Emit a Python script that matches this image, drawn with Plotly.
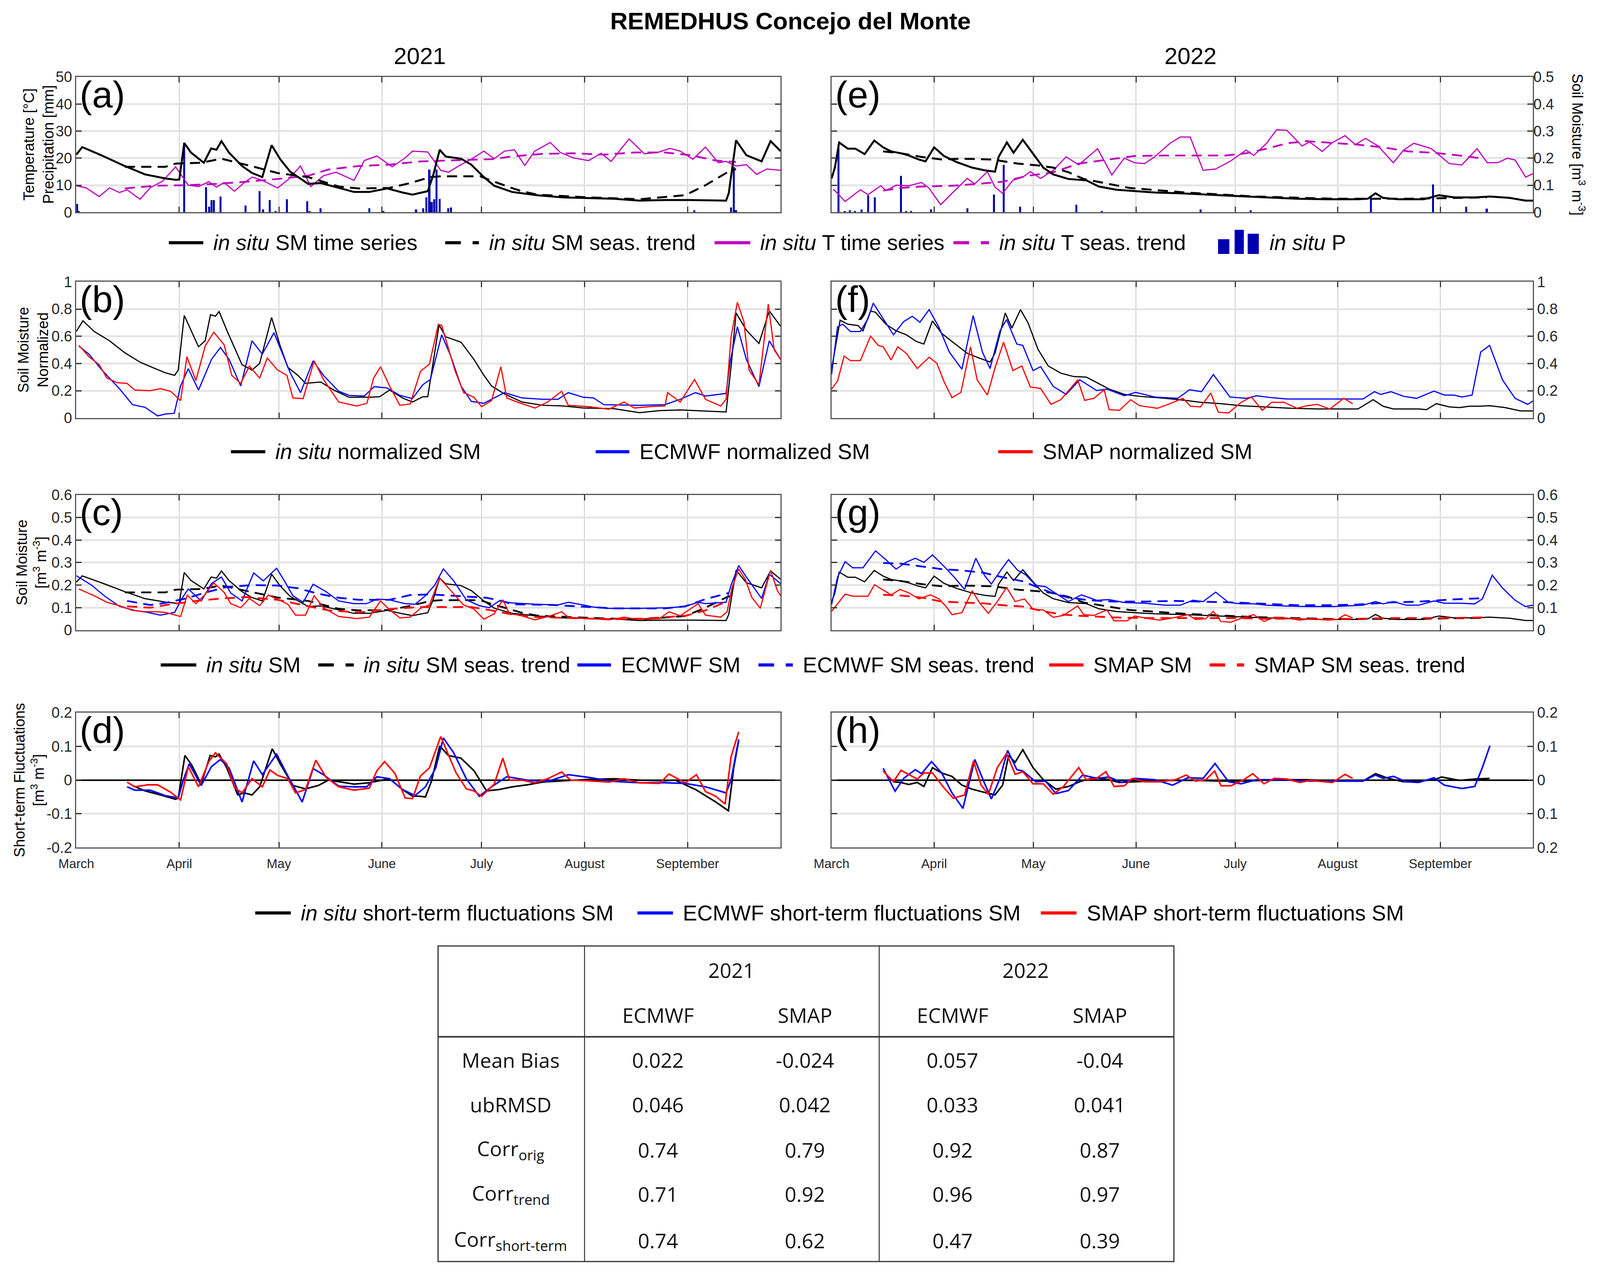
import numpy as np
import pandas as pd
import plotly.graph_objects as go

# values; first number = days after 1 March of that year

# ---- (a)/(c) 2021 in situ soil moisture [m3 m-3] ----
sm21 = [(0, 0.213), (1.8, 0.241), (8.4, 0.206), (14.6, 0.171), (20.7, 0.140), (26.8, 0.125), (30.0, 0.120),
        (31.0, 0.121), (32.5, 0.256), (34.5, 0.221), (38.4, 0.183), (40.6, 0.236), (42.2, 0.231), (43.7, 0.263),
        (46.0, 0.220), (49.9, 0.171), (52.9, 0.145), (56.0, 0.130), (58.8, 0.248), (61.4, 0.196), (64.4, 0.150),
        (69.8, 0.105), (73.6, 0.108), (79.0, 0.090), (83.6, 0.075), (88.2, 0.075), (93.6, 0.088), (98.2, 0.073),
        (101.2, 0.065), (105.8, 0.078), (107.4, 0.135), (109.4, 0.231), (111.2, 0.206), (115.8, 0.198),
        (118.9, 0.176), (122.7, 0.130), (125.8, 0.098), (131.2, 0.075), (138.8, 0.063), (146.5, 0.055),
        (154.2, 0.053), (161.8, 0.050), (169.5, 0.043), (177.2, 0.045), (184.9, 0.045), (195.6, 0.043),
        (196.4, 0.070), (198.6, 0.266), (201.7, 0.211), (206.3, 0.188), (209.0, 0.263), (212, 0.226)]
sm21_trend = [(14.6, 0.168), (26.8, 0.168), (30.0, 0.180), (37.6, 0.183), (43.7, 0.198), (48, 0.185),
              (52.9, 0.170), (60.6, 0.145), (69.8, 0.130), (79, 0.095), (85, 0.088), (94.3, 0.090),
              (100.5, 0.108), (106.6, 0.130), (109.7, 0.133), (121.6, 0.133), (124.7, 0.118), (131, 0.090),
              (134, 0.078), (138.8, 0.065), (154.2, 0.055), (169.5, 0.048), (183.3, 0.063), (189.4, 0.100),
              (195.6, 0.145), (198.6, 0.160)]
t21 = [(0, 9.8), (3, 9.0), (6.9, 5.8), (10, 9.0), (13, 7.3), (15.3, 8.3), (19.2, 4.8), (22.2, 9.0), (26, 11.5),
       (29.9, 16.8), (33.7, 10.0), (36.8, 9.5), (39.9, 11.3), (42.2, 9.3), (44.5, 11.0), (47.6, 7.8),
       (50.6, 11.0), (53, 13.0), (56, 11.8), (60.6, 9.0), (63.7, 12.0), (67.5, 17.1), (70.6, 9.5), (74.4, 13.5),
       (78.2, 14.8), (83.6, 11.8), (86.7, 19.1), (90.5, 20.8), (95.1, 16.8), (99, 20.1), (101.2, 22.6),
       (105.8, 22.3), (109.7, 15.5), (112, 14.8), (115.8, 17.6), (118.9, 19.6), (122.7, 22.6), (125.8, 19.8),
       (128.9, 22.6), (131.9, 23.1), (135, 17.3), (138, 22.6), (142.7, 25.8), (145.7, 22.1), (149.6, 20.1),
       (154.2, 19.1), (158, 21.8), (161, 18.8), (166.4, 27.1), (171, 21.6), (175, 22.1), (178.7, 23.6),
       (181.8, 22.6), (185.6, 19.6), (189.4, 24.1), (193.3, 18.3), (195.6, 18.8), (198.6, 17.1), (201.7, 17.6),
       (204.8, 14.0), (207.9, 16.0), (212, 15.5)]
t21_trend = [(14.6, 8.8), (23.8, 9.8), (33, 10.0), (42.2, 10.5), (51.4, 11.3), (60.6, 12.3), (69.8, 13.5),
             (75.9, 15.8), (85, 17.1), (94.3, 17.6), (103.6, 18.8), (109.7, 19.1), (115.8, 19.3), (125, 19.6),
             (131, 20.6), (140.4, 21.6), (149.6, 21.8), (158.8, 21.3), (168, 22.1), (177.2, 22.1),
             (184.9, 21.1), (192.5, 19.1), (198.6, 18.6)]
p21 = [(0.3, 3.0), (0.8, 0.5), (32.5, 25.8), (39.1, 9.3), (40, 2.0), (40.7, 4.5), (41.4, 4.5), (43.4, 5.8),
       (51, 2.5), (55.2, 7.8), (56.3, 1.0), (58.3, 4.5), (60, 0.5), (63.4, 4.8), (69.5, 4.0), (70.3, 0.5),
       (73.6, 1.5), (88.2, 1.5), (92.5, 0.5), (102.3, 1.0), (104.5, 1.5), (105.4, 5.5), (106.3, 15.8),
       (107, 3.8), (107.8, 4.8), (108.5, 15.8), (109.4, 5.0), (112, 1.5), (112.8, 1.8), (186.1, 0.8),
       (197.1, 1.8), (198, 16.8), (198.6, 0.8)]

# ---- (e)/(g) 2022 ----
sm22 = [(0, 0.125), (1, 0.165), (2.3, 0.258), (4.9, 0.235), (7.2, 0.235), (10, 0.215), (12.9, 0.265),
        (15.6, 0.240), (18, 0.225), (21, 0.218), (23.3, 0.210), (26.4, 0.195), (28.4, 0.188), (31, 0.240),
        (34, 0.208), (37.9, 0.185), (42.5, 0.165), (46.3, 0.155), (49.4, 0.150), (50.5, 0.205), (53, 0.258),
        (55, 0.220), (57.8, 0.268), (60.9, 0.215), (64, 0.165), (67, 0.140), (71.6, 0.123), (77, 0.118),
        (80.8, 0.095), (86.2, 0.083), (91.6, 0.078), (97.7, 0.073), (105.4, 0.070), (113, 0.065),
        (122.3, 0.060), (131.5, 0.055), (140.7, 0.050), (149.9, 0.048), (159, 0.048), (162.1, 0.050),
        (164.4, 0.070), (166.7, 0.053), (171.3, 0.048), (179, 0.048), (183.6, 0.063), (188.2, 0.055),
        (194.4, 0.055), (199, 0.058), (205, 0.053), (209.8, 0.043), (212, 0.043)]
sm22_trend = [(15.6, 0.225), (21, 0.218), (27, 0.205), (33.3, 0.195), (39.4, 0.198), (48.6, 0.195),
              (56.3, 0.180), (62.4, 0.173), (67, 0.165), (71.6, 0.148), (76.2, 0.123), (90, 0.090),
              (107, 0.073), (128.4, 0.058), (151.4, 0.050), (174.4, 0.050), (198, 0.055)]
t22 = [(0.5, 8.5), (1, 8.0), (4.1, 4.0), (8.7, 8.3), (11, 6.5), (14.9, 9.8), (16.4, 8.0), (19.5, 10.0),
       (23.3, 9.8), (27.2, 11.0), (29.4, 9.0), (33, 2.8), (36.4, 7.0), (41, 12.5), (43.3, 10.5), (47.1, 15.0),
       (49.4, 9.3), (51.7, 7.0), (54.8, 11.8), (57.8, 13.0), (60.1, 15.0), (63.2, 12.5), (67, 15.5),
       (70.9, 20.5), (74.7, 17.5), (77.8, 20.8), (80.4, 23.5), (84.7, 13.8), (88.5, 20.0), (91.6, 18.3),
       (94.6, 18.0), (97.7, 20.5), (102.3, 25.5), (105.4, 27.8), (108.4, 27.8), (112.3, 15.5), (116.1, 16.0),
       (120.7, 19.0), (125.3, 23.0), (127.6, 21.0), (131.5, 25.5), (134.5, 30.5), (137.6, 30.3),
       (142.2, 24.5), (144.5, 26.0), (148.3, 22.5), (151.4, 25.8), (155.2, 28.3), (158.3, 25.0),
       (161.4, 27.3), (165.2, 24.5), (169.8, 18.3), (172.9, 23.0), (176, 25.5), (181.3, 23.5), (186.7, 18.0),
       (190.5, 17.5), (195.1, 23.5), (198.2, 18.3), (201.3, 18.3), (204.3, 20.0), (206.6, 19.3),
       (209.8, 13.0), (212, 14.3)]
t22_trend = [(15.6, 8.0), (21, 9.0), (27.2, 9.5), (36.4, 9.8), (44, 10.5), (51.7, 11.3), (59.4, 13.5),
             (67, 14.8), (74.7, 18.0), (82.4, 19.3), (91.6, 20.8), (100.8, 21.0), (110, 21.0), (119.2, 21.0),
             (125.3, 21.8), (131.5, 23.5), (137.6, 25.5), (143.7, 26.3), (152.9, 25.5), (159, 25.0),
             (166.7, 24.0), (174.4, 22.5), (182, 22.0), (189.7, 21.0), (195.9, 20.0)]
p22 = [(2.1, 25.0), (4, 0.5), (5.5, 0.8), (7, 0.5), (9, 1.0), (11, 6.3), (13, 5.5), (21, 13.5), (22.5, 0.5),
       (24, 0.5), (30, 1.0), (41, 1.5), (49.1, 6.5), (52, 17.5), (57, 2.0), (74, 2.8), (81.6, 0.5),
       (111.5, 1.0), (126.6, 0.8), (163, 5.3), (181.8, 10.3), (191.8, 2.0), (198, 1.3)]

# ---- (b)/(f) normalized soil moisture ----
norm_insitu21 = [(0, 0.635), (2, 0.714), (5.4, 0.635), (10, 0.567), (14.6, 0.479), (19.2, 0.41), (23.8, 0.362),
                 (26.8, 0.332), (29.6, 0.313), (30.7, 0.352), (32.5, 0.753), (34.5, 0.645), (36.8, 0.523),
                 (38.8, 0.567), (40.4, 0.758), (41.9, 0.748), (43, 0.782), (45.3, 0.645), (49.9, 0.391),
                 (52.9, 0.352), (55.2, 0.401), (58.8, 0.738), (61.4, 0.528), (63.7, 0.371), (66.7, 0.313),
                 (69, 0.254), (73.6, 0.264), (77.5, 0.205), (82.1, 0.152), (88.2, 0.152), (91.3, 0.156),
                 (94.3, 0.205), (98.2, 0.147), (101.2, 0.117), (104.3, 0.156), (105.8, 0.156), (109.2, 0.684),
                 (111.2, 0.596), (115.8, 0.557), (119.7, 0.43), (122.7, 0.313), (125, 0.235), (128.9, 0.176),
                 (134.2, 0.117), (140.4, 0.093), (146.5, 0.088), (152.6, 0.073), (161.8, 0.068), (169.5, 0.039),
                 (175.6, 0.054), (181.8, 0.059), (186.4, 0.054), (195.6, 0.044), (197.2, 0.40), (198.6, 0.772),
                 (201.7, 0.645), (205.5, 0.547), (208.6, 0.787), (212, 0.674)]
norm_ecmwf21 = [(0.8, 0.528), (3.8, 0.469), (7.7, 0.352), (13, 0.215), (16.9, 0.098), (20.7, 0.078),
                (24.5, 0.015), (26.8, 0.029), (29.5, 0.034), (31.4, 0.235), (33.7, 0.362), (36.8, 0.205),
                (40.7, 0.43), (43.4, 0.518), (46, 0.43), (49.5, 0.235), (52.9, 0.567), (56, 0.469), (59.5, 0.626),
                (61.8, 0.489), (64.4, 0.332), (67.5, 0.186), (71.3, 0.42), (74.4, 0.313), (79, 0.196),
                (82.1, 0.166), (86.7, 0.161), (89.7, 0.23), (93.6, 0.22), (97.4, 0.166), (101.2, 0.142),
                (104.3, 0.244), (106.6, 0.283), (110, 0.611), (112.8, 0.45), (115.8, 0.235), (118.9, 0.122),
                (122.7, 0.108), (125.8, 0.147), (128.9, 0.186), (134.2, 0.147), (140.4, 0.137), (145, 0.137),
                (148.1, 0.186), (152.6, 0.152), (155.7, 0.147), (158.8, 0.098), (169.5, 0.093), (177.2, 0.098),
                (181.8, 0.137), (186.4, 0.186), (189.4, 0.161), (195.6, 0.18), (196.8, 0.41), (199, 0.67),
                (201.7, 0.43), (205.5, 0.23), (208.6, 0.567), (212, 0.43)]
norm_smap21 = [(0.8, 0.533), (3.8, 0.45), (6.9, 0.391), (9.2, 0.293), (12.3, 0.259), (15.3, 0.254), (17.6, 0.205),
               (22.2, 0.2), (25.3, 0.215), (28.4, 0.196), (31.4, 0.127), (33.3, 0.45), (36, 0.274), (38.8, 0.528),
               (41.4, 0.63), (44.5, 0.538), (46.8, 0.313), (49.5, 0.254), (52.1, 0.381), (55.2, 0.293),
               (57.5, 0.44), (60.6, 0.352), (63.4, 0.313), (65.2, 0.147), (68.3, 0.142), (71.6, 0.42),
               (74.4, 0.283), (79, 0.117), (84.4, 0.088), (87.5, 0.108), (89.5, 0.293), (91.6, 0.376),
               (94.3, 0.235), (97.4, 0.093), (100.5, 0.103), (103.6, 0.342), (106.3, 0.396), (109, 0.689),
               (110, 0.68), (114, 0.347), (116.6, 0.186), (119.7, 0.152), (122, 0.083), (125, 0.127),
               (127.8, 0.376), (129.6, 0.147), (132.7, 0.117), (138.1, 0.073), (141.9, 0.117), (146.1, 0.196),
               (148.1, 0.093), (154.2, 0.083), (160.3, 0.064), (164.9, 0.117), (168, 0.073), (172.6, 0.083),
               (177.2, 0.088), (178, 0.186), (181.8, 0.117), (186.1, 0.283), (189.4, 0.137), (194, 0.088),
               (195.6, 0.137), (197.1, 0.596), (199, 0.85), (201, 0.704), (202.5, 0.352), (205.5, 0.244),
               (208.3, 0.836), (210.1, 0.499), (212, 0.43)]
norm_insitu22 = [(0, 0.358), (2.6, 0.718), (4.9, 0.689), (8, 0.679), (9.5, 0.64), (11.8, 0.786), (13.3, 0.776),
                 (16.4, 0.689), (19.5, 0.64), (22.6, 0.611), (25.6, 0.562), (27.9, 0.543), (30.5, 0.713),
                 (33.3, 0.621), (36.4, 0.562), (41, 0.475), (44, 0.446), (47.9, 0.411), (49.4, 0.475),
                 (52.5, 0.771), (54.5, 0.66), (57.1, 0.796), (59.4, 0.698), (62.4, 0.504), (65.5, 0.382),
                 (69.3, 0.329), (73.2, 0.304), (77, 0.3), (80.1, 0.261), (83.9, 0.212), (88.5, 0.173),
                 (93.1, 0.159), (100.8, 0.144), (106.9, 0.129), (111.5, 0.115), (117.7, 0.105), (123.8, 0.09),
                 (131.5, 0.081), (139.1, 0.071), (146.8, 0.066), (159.1, 0.066), (163.7, 0.134), (166.7, 0.086),
                 (169.8, 0.066), (177.5, 0.066), (179.8, 0.061), (182.8, 0.105), (186.7, 0.081), (189.8, 0.076),
                 (192.8, 0.086), (195.9, 0.086), (199, 0.09), (203.6, 0.076), (208.2, 0.052), (212, 0.052)]
norm_ecmwf22 = [(0, 0.319), (1.8, 0.669), (3.4, 0.689), (5.7, 0.635), (8.7, 0.635), (11, 0.728), (12.6, 0.844),
                (15.6, 0.728), (18.7, 0.611), (21.8, 0.708), (24.4, 0.747), (26.7, 0.703), (29.5, 0.796),
                (32.5, 0.664), (35.6, 0.484), (39.4, 0.358), (42.8, 0.752), (45.6, 0.484), (47.9, 0.363),
                (50.9, 0.64), (52.9, 0.723), (56, 0.543), (57.8, 0.533), (60.9, 0.348), (63.2, 0.377),
                (67, 0.232), (70.9, 0.173), (75, 0.28), (80.1, 0.202), (83.2, 0.212), (88.5, 0.163),
                (91.9, 0.188), (97.7, 0.154), (104.6, 0.144), (108.2, 0.207), (111.8, 0.193), (115.4, 0.319),
                (120.4, 0.154), (125.3, 0.144), (128.4, 0.163), (133, 0.149), (137.6, 0.139), (160.6, 0.139),
                (164.1, 0.193), (166, 0.173), (169.1, 0.193), (172.9, 0.159), (176.8, 0.144), (182.1, 0.197),
                (185.2, 0.168), (188.2, 0.168), (190.5, 0.154), (193.6, 0.168), (196.2, 0.484), (198.9, 0.533),
                (202.8, 0.28), (206.6, 0.144), (210.4, 0.1), (212, 0.125)]
norm_smap22 = [(0, 0.212), (1.8, 0.27), (3.8, 0.455), (5.7, 0.421), (8.7, 0.421), (11.8, 0.601), (14.1, 0.533),
               (15.6, 0.523), (18, 0.426), (20, 0.523), (22.6, 0.475), (25.9, 0.363), (29.5, 0.446),
               (31.8, 0.402), (34.1, 0.261), (36.4, 0.149), (39.1, 0.188), (42, 0.523), (44, 0.28), (47.1, 0.168),
               (49.4, 0.368), (52, 0.557), (54.8, 0.348), (57.5, 0.382), (60.1, 0.227), (63.2, 0.217),
               (66.3, 0.1), (69.3, 0.134), (74.4, 0.28), (76.5, 0.129), (79.3, 0.144), (82.4, 0.207),
               (83.9, 0.061), (87, 0.056), (90.4, 0.134), (93.1, 0.09), (98.5, 0.071), (102.3, 0.105),
               (106.2, 0.144), (108.5, 0.086), (111.5, 0.081), (114.6, 0.183), (116.9, 0.042), (120, 0.037),
               (123.8, 0.115), (126.9, 0.154), (130.2, 0.056), (133, 0.115), (136.8, 0.115), (140.7, 0.071),
               (143.7, 0.09), (146.8, 0.1), (150.6, 0.066), (154.8, 0.144), (157.5, 0.105)]

# ---- (c)/(g) ECMWF and SMAP soil moisture [m3 m-3] ----
ecmwf21 = [(0, 0.242), (4.6, 0.2), (8.4, 0.153), (13, 0.106), (17.6, 0.088), (21.5, 0.079), (25.3, 0.067),
           (29.6, 0.079), (31.8, 0.141), (33.7, 0.183), (37.6, 0.13), (40.7, 0.207), (43.7, 0.236), (46.5, 0.165),
           (49.9, 0.13), (53.4, 0.254), (56.3, 0.219), (60.3, 0.275), (62.4, 0.225), (65.2, 0.153), (68.3, 0.124),
           (71.3, 0.204), (75.2, 0.171), (79, 0.13), (83.6, 0.118), (87.4, 0.118), (90.5, 0.138), (94.3, 0.135),
           (98.9, 0.118), (102, 0.115), (105.1, 0.153), (107.9, 0.2), (110.5, 0.272), (113.6, 0.219),
           (117.4, 0.135), (121.3, 0.109), (124.3, 0.1), (127.3, 0.13), (131.2, 0.121), (138.8, 0.115),
           (145, 0.112), (148.1, 0.124), (152.6, 0.112), (155.7, 0.103), (159.6, 0.097), (169.5, 0.097),
           (178.7, 0.1), (183.3, 0.106), (187.2, 0.124), (189.4, 0.118), (195.6, 0.124), (197.1, 0.2),
           (199.4, 0.287), (201.7, 0.236), (206.3, 0.141), (208.6, 0.248), (212, 0.207)]
ecmwf21_trend = [(15.3, 0.13), (22.2, 0.112), (26.8, 0.121), (33, 0.141), (39.1, 0.168), (45.3, 0.192),
                 (52.9, 0.2), (60.6, 0.198), (66.7, 0.186), (72.8, 0.162), (79, 0.144), (85.1, 0.135),
                 (94.3, 0.135), (100.5, 0.156), (106.6, 0.159), (115.8, 0.15), (123.5, 0.144), (128.1, 0.13),
                 (131.2, 0.115), (143.5, 0.112), (154.2, 0.103), (161.8, 0.097), (177.2, 0.097), (183.3, 0.106),
                 (189.4, 0.138), (196.3, 0.165)]
smap21 = [(0.8, 0.183), (5.4, 0.153), (9.2, 0.124), (13, 0.109), (16.9, 0.088), (20.7, 0.082), (23.8, 0.082),
          (26.8, 0.079), (31.4, 0.061), (33.4, 0.156), (36, 0.118), (38.8, 0.159), (41.4, 0.21), (44.5, 0.168),
          (46.5, 0.118), (49.5, 0.1), (52.1, 0.141), (55.2, 0.109), (57.8, 0.156), (61.4, 0.132), (63.7, 0.115),
          (66, 0.067), (69, 0.067), (71.6, 0.153), (74.4, 0.1), (79, 0.061), (84.4, 0.052), (88.2, 0.058),
          (91.6, 0.13), (94.3, 0.091), (97.4, 0.055), (100.5, 0.058), (103.6, 0.097), (106.3, 0.112),
          (109.4, 0.231), (116.6, 0.112), (119.7, 0.094), (122.7, 0.049), (125.8, 0.073), (128.4, 0.135),
          (130.4, 0.073), (133.5, 0.067), (138.1, 0.046), (142.7, 0.064), (146.1, 0.082), (148.1, 0.058),
          (154.2, 0.052), (160.3, 0.046), (164.9, 0.058), (168.8, 0.049), (175.6, 0.052), (178.4, 0.082),
          (181.8, 0.064), (187.2, 0.118), (189.4, 0.067), (194, 0.058), (195.9, 0.082), (197.4, 0.189),
          (199.4, 0.272), (201.4, 0.225), (203.3, 0.147), (205.9, 0.097), (209, 0.266), (211, 0.177),
          (212, 0.153)]
smap21_trend = [(15.3, 0.106), (22.2, 0.1), (28.4, 0.115), (36, 0.13), (43.7, 0.141), (51.4, 0.147),
                (60.6, 0.135), (68.3, 0.112), (75.9, 0.088), (85.1, 0.079), (94.3, 0.094), (103.6, 0.103),
                (111.2, 0.103), (118.9, 0.103), (125, 0.088), (131.2, 0.07), (138.8, 0.058), (146.5, 0.055),
                (154.2, 0.052), (161.8, 0.049), (171, 0.052), (177.2, 0.058), (183.3, 0.064), (189.4, 0.088),
                (196.3, 0.13)]
ecmwf22 = [(0, 0.114), (1.8, 0.235), (4.1, 0.304), (6.4, 0.277), (9.5, 0.277), (13.3, 0.352), (16.4, 0.313),
           (19.5, 0.271), (22.5, 0.301), (25.3, 0.319), (27.9, 0.301), (30.5, 0.334), (34, 0.283), (37.1, 0.235),
           (40.2, 0.181), (43.6, 0.319), (46.3, 0.241), (48.3, 0.205), (51.4, 0.271), (53.5, 0.313),
           (56.3, 0.265), (58.6, 0.247), (61.7, 0.199), (64.7, 0.193), (67.8, 0.163), (71.6, 0.127),
           (75.5, 0.157), (80.1, 0.133), (83.9, 0.136), (88.5, 0.123), (94.6, 0.12), (100.8, 0.111),
           (105.4, 0.111), (109.2, 0.133), (112.3, 0.127), (116.1, 0.169), (120, 0.123), (123.8, 0.117),
           (127.6, 0.117), (131.5, 0.111), (136.1, 0.108), (143.7, 0.105), (151.4, 0.105), (160.6, 0.111),
           (164.4, 0.127), (166.7, 0.117), (169.8, 0.127), (173.7, 0.111), (177.5, 0.111), (182.1, 0.13),
           (185.2, 0.12), (189.8, 0.12), (194.4, 0.117), (196.7, 0.139), (199.7, 0.244), (202.8, 0.187),
           (206.6, 0.133), (209.7, 0.105), (212, 0.111)]
ecmwf22_trend = [(15.6, 0.298), (21, 0.295), (27.2, 0.283), (33.3, 0.271), (39.4, 0.265), (45.6, 0.256),
                 (51.7, 0.235), (57.8, 0.217), (62.4, 0.19), (67, 0.163), (71.6, 0.145), (77.8, 0.133),
                 (85.5, 0.127), (94.6, 0.127), (103.8, 0.13), (113, 0.127), (122.3, 0.123), (131.5, 0.117),
                 (140.7, 0.111), (149.9, 0.111), (159.1, 0.114), (168.3, 0.123), (177.5, 0.127), (186.7, 0.136),
                 (196.7, 0.142)]
smap22 = [(0, 0.084), (1, 0.102), (4.1, 0.16), (6.4, 0.151), (11, 0.151), (13, 0.202), (15.6, 0.178), (18, 0.157),
          (20.7, 0.181), (23.3, 0.166), (26.4, 0.139), (29.9, 0.157), (32.5, 0.139), (34.8, 0.102), (36.4, 0.069),
          (39.4, 0.078), (42.5, 0.175), (44.8, 0.12), (47.4, 0.075), (50.1, 0.127), (52.9, 0.19), (55.5, 0.127),
          (58.3, 0.139), (60.9, 0.093), (64, 0.09), (67, 0.057), (70.1, 0.066), (74.4, 0.108), (76.2, 0.069),
          (79.3, 0.066), (83.2, 0.09), (85.4, 0.042), (89.3, 0.042), (91.6, 0.063), (96.2, 0.051), (99.3, 0.045),
          (103.9, 0.057), (107.7, 0.069), (110, 0.048), (113.1, 0.051), (115.4, 0.084), (117.7, 0.039),
          (120.7, 0.036), (124.6, 0.057), (127.6, 0.069), (130.7, 0.039), (133.8, 0.057), (137.6, 0.054),
          (141.5, 0.045), (144.5, 0.051), (149.9, 0.045), (152.9, 0.048), (155.2, 0.069), (157.5, 0.054)]
smap22_trend = [(15.6, 0.157), (21, 0.154), (27.2, 0.145), (33.3, 0.127), (39.4, 0.123), (45.6, 0.12),
                (51.7, 0.111), (57.8, 0.105), (64, 0.084), (70.1, 0.069), (76.2, 0.063), (85.4, 0.057),
                (94.6, 0.054), (103.9, 0.054), (113.1, 0.054), (122.3, 0.054), (131.5, 0.051), (140.7, 0.051),
                (149.9, 0.048), (159.1, 0.051), (168.3, 0.054), (177.5, 0.054), (186.7, 0.054), (196.7, 0.057)]

# ---- (d)/(h) short-term fluctuations [m3 m-3] ----
st_insitu21 = [(16.9, -0.016), (20.7, -0.032), (25.3, -0.044), (29.9, -0.057), (30.7, -0.053), (32.7, 0.073),
               (34.8, 0.044), (37.6, -0.012), (40.3, 0.073), (41.9, 0.069), (43, 0.077), (45.3, 0.036),
               (48.6, -0.044), (50.6, -0.038), (52.9, -0.044), (55.2, -0.02), (59, 0.093), (61.4, 0.048),
               (65.2, -0.016), (69, -0.026), (72.9, -0.016), (75.9, 0), (79.8, -0.006), (83.6, -0.012),
               (88.2, -0.008), (92, 0), (94.3, 0.004), (98.2, -0.028), (101.2, -0.048), (103.2, -0.048),
               (105.1, -0.05), (106.9, -0.004), (109.4, 0.101), (112, 0.073), (115.8, 0.065), (119.7, 0.028),
               (123.5, -0.032), (127.3, -0.028), (131.2, -0.02), (135.8, -0.014), (140.4, -0.006), (146.5, -0.002),
               (154.2, 0.002), (161.8, 0.004), (169.5, 0), (177.2, -0.002), (180.3, 0), (186.4, -0.028),
               (192.5, -0.065), (196.3, -0.091), (197.9, 0.036), (199.4, 0.117)]
st_ecmwf21 = [(15.3, -0.02), (17.6, -0.03), (22.2, -0.03), (26.8, -0.046), (30.7, -0.053), (32.2, 0),
              (34, 0.048), (37.6, -0.016), (40.7, 0.04), (43.4, 0.061), (46, 0.036), (49.9, -0.065), (53.4, 0.057),
              (56, 0.016), (60.3, 0.077), (63.7, 0.012), (68, -0.065), (71.3, 0.034), (74.4, 0.016), (79, -0.018),
              (83.6, -0.02), (87.4, -0.02), (90.5, 0.01), (94.3, 0.004), (98.2, -0.028), (102, -0.046),
              (105.1, -0.02), (108.2, 0.036), (110.5, 0.125), (113.6, 0.081), (117.4, 0.004), (121.3, -0.048),
              (125, -0.02), (129.6, 0.01), (135.8, 0), (141.9, -0.004), (148.1, 0.016), (154.2, 0.008),
              (161.8, -0.004), (169.5, -0.008), (177.2, -0.008), (183.3, -0.01), (189.4, -0.02), (195.6, -0.038),
              (197.1, 0), (199.4, 0.121)]
st_smap21 = [(15.3, -0.006), (17.6, -0.02), (21.5, -0.014), (24.5, -0.014), (28.4, -0.036), (31.4, -0.059),
             (33.7, 0.04), (36.8, -0.02), (39.9, 0.055), (41.9, 0.081), (45.3, 0.048), (47.6, -0.022),
             (49.9, -0.038), (52.9, 0.004), (56, -0.02), (58.3, 0.03), (60.6, 0.014), (63.7, 0.004), (66, -0.038),
             (69, -0.028), (72.1, 0.059), (75.2, 0.008), (79, -0.02), (83.6, -0.03), (88.2, -0.024), (90.5, 0.028),
             (92.8, 0.055), (95.9, 0.02), (99, -0.053), (101.2, -0.055), (103.6, 0.012), (106.3, 0.036),
             (109.7, 0.129), (114.3, 0.022), (117.4, -0.026), (119.7, -0.032), (122, -0.048), (125.8, -0.012),
             (128.4, 0.065), (130.4, 0), (134.2, 0), (138.1, -0.008), (141.9, 0.004), (146.1, 0.024),
             (148.8, 0), (154.2, -0.002), (160.3, -0.006), (164.9, 0.004), (169.5, -0.008), (175.6, -0.01),
             (178.4, 0.018), (183.3, -0.008), (186.7, 0.016), (189.4, -0.034), (192.5, -0.048), (195.3, -0.071),
             (197.1, 0.069), (199.4, 0.143)]
st_insitu22 = [(18.7, -0.005), (21, -0.007), (23.3, -0.013), (25.9, -0.007), (27.9, -0.019), (30.5, 0.037),
               (33.3, 0.021), (36.4, 0.011), (39.4, -0.015), (42.5, -0.027), (45.6, -0.035), (49.4, -0.044),
               (51.7, -0.015), (53.5, 0.073), (55.5, 0.053), (57.8, 0.09), (60.9, 0.037), (64, 0.001),
               (67.8, -0.027), (71.6, -0.019), (75.5, -0.003), (79.3, 0.007), (83.9, 0.001), (86.9, -0.007),
               (91.6, -0.005), (97.7, -0.003), (103.9, -0.001), (110, -0.001), (117.7, -0.003), (125.3, -0.003),
               (134.5, 0.001), (143.7, 0.001), (152.9, -0.003), (160.6, -0.003), (164.4, 0.019), (168.3, 0.005),
               (172.9, -0.005), (177.5, -0.003), (182.1, 0.001), (184.4, 0.009), (189.8, -0.001), (194.4, 0.003),
               (198.9, 0.005)]
st_ecmwf22 = [(15.6, 0.035), (19.2, -0.033), (21.8, 0.005), (25.3, 0.031), (27.2, 0.019), (30.2, 0.055),
              (33.3, 0.021), (36.4, -0.038), (39.7, -0.084), (43.3, 0.061), (46.3, -0.011), (48.3, -0.056),
              (50.9, 0.005), (53.2, 0.088), (56, 0.031), (57.8, 0.027), (61.7, -0.005), (64.7, -0.003),
              (67.8, -0.04), (71.6, -0.031), (75.9, 0.015), (80.1, 0.005), (83.9, 0.009), (87.7, -0.007),
              (91.6, 0.005), (97.7, 0.001), (103.1, -0.015), (107.7, 0.007), (112.3, 0.005), (115.9, 0.049),
              (120, -0.005), (123.8, -0.011), (128.4, 0.001), (136.1, 0.001), (143.7, -0.003), (152.9, -0.003),
              (160.6, -0.003), (164.4, 0.015), (166.7, 0.005), (169.8, 0.011), (173.7, -0.005), (177.5, -0.007),
              (182.1, 0.007), (185.2, -0.015), (190.5, -0.025), (194.4, -0.019), (196.7, 0.037), (199, 0.102)]
st_smap22 = [(15.6, 0.027), (18.7, -0.005), (21, 0.029), (23.3, 0.017), (25.9, 0.003), (27.9, 0.021),
             (30.5, 0.021), (34, -0.023), (36.8, -0.054), (40.2, -0.044), (42.9, 0.057), (45.2, -0.015),
             (47.4, -0.042), (50.1, 0.037), (52.9, 0.079), (55.5, 0.017), (57.8, 0.025), (60.9, -0.011),
             (64, -0.011), (67, -0.042), (70.1, -0.019), (74.7, 0.037), (77, 0.001), (80.1, 0.005), (82.9, 0.025),
             (85.4, -0.019), (88.5, -0.017), (90.9, 0.005), (94.6, -0.005), (99.3, -0.005), (103.9, 0.001),
             (107.2, 0.015), (110, -0.003), (113.1, 0.001), (115.8, 0.027), (117.7, -0.017), (120.7, -0.017),
             (124.6, 0.001), (127.3, 0.019), (130.7, -0.011), (133.8, 0.005), (137.6, 0.003), (141.5, -0.007),
             (144.5, -0.001), (151.4, -0.007), (155.2, 0.017), (157.5, 0.005)]

# ---- table ----
table_rows = ["Mean Bias", "ubRMSD", "Corr<sub>orig</sub>", "Corr<sub>trend</sub>", "Corr<sub>short-term</sub>"]
ecmwf_2021 = ["0.022", "0.046", "0.74", "0.71", "0.74"]
smap_2021 = ["-0.024", "0.042", "0.79", "0.92", "0.62"]
ecmwf_2022 = ["0.057", "0.033", "0.92", "0.96", "0.47"]
smap_2022 = ["-0.04", "0.041", "0.87", "0.97", "0.39"]

months = ["March", "April", "May", "June", "July", "August", "September"]

BLACK, BLUE, RED, MAGENTA, PBLUE = "#000000", "#0000ff", "#ff0000", "#bf00bf", "#0000b0"
FONT = "Liberation Sans, Arial, sans-serif"
DASH = "26px,16px"

fig = go.Figure()


def dates(year, days):
    return pd.Timestamp(f"{year}-03-01") + pd.to_timedelta(np.asarray(days, dtype=float), unit="D")


def line(series, year, xa, ya, color, width=3.5, dash=None):
    d, v = zip(*series)
    fig.add_trace(go.Scatter(x=dates(year, d), y=list(v), mode="lines", xaxis=xa, yaxis=ya,
                             line=dict(color=color, width=width, dash=dash),
                             showlegend=False, hoverinfo="skip"))


def bars(series, year, xa, ya):
    d, v = zip(*series)
    fig.add_trace(go.Bar(x=dates(year, d), y=list(v), xaxis=xa, yaxis=ya, width=0.6 * 86400000,
                         marker=dict(color=PBLUE, line_width=0), showlegend=False, hoverinfo="skip"))


# (a) and (e)
for year, xa, ya, ysm, p, t, tt, sm, smt in [(2021, "x", "y", "y9", p21, t21, t21_trend, sm21, sm21_trend),
                                             (2022, "x5", "y5", "y10", p22, t22, t22_trend, sm22, sm22_trend)]:
    bars(p, year, xa, ya)
    line(t, year, xa, ya, MAGENTA, 3)
    line(tt, year, xa, ya, MAGENTA, 4.5, DASH)
    line(sm, year, xa, ysm, BLACK, 5)
    line(smt, year, xa, ysm, BLACK, 5, DASH)

# (b) and (f)
for year, xa, ya, a, b, c in [(2021, "x2", "y2", norm_insitu21, norm_ecmwf21, norm_smap21),
                              (2022, "x6", "y6", norm_insitu22, norm_ecmwf22, norm_smap22)]:
    line(a, year, xa, ya, BLACK, 3)
    line(b, year, xa, ya, BLUE, 3)
    line(c, year, xa, ya, RED, 3)

# (c) and (g)
for year, xa, ya, s, st, e, et, m, mt in [
        (2021, "x3", "y3", sm21, sm21_trend, ecmwf21, ecmwf21_trend, smap21, smap21_trend),
        (2022, "x7", "y7", sm22, sm22_trend, ecmwf22, ecmwf22_trend, smap22, smap22_trend)]:
    line(s, year, xa, ya, BLACK, 3)
    line(st, year, xa, ya, BLACK, 4.5, DASH)
    line(e, year, xa, ya, BLUE, 3)
    line(et, year, xa, ya, BLUE, 4.5, DASH)
    line(m, year, xa, ya, RED, 3)
    line(mt, year, xa, ya, RED, 4.5, DASH)

# (d) and (h)
for year, xa, ya, a, b, c in [(2021, "x4", "y4", st_insitu21, st_ecmwf21, st_smap21),
                              (2022, "x8", "y8", st_insitu22, st_ecmwf22, st_smap22)]:
    line(a, year, xa, ya, BLACK, 4)
    line(b, year, xa, ya, BLUE, 4)
    line(c, year, xa, ya, RED, 4)

# ---- axes ----
COLS = {2021: [0.0459, 0.4878], 2022: [0.5198, 0.9599]}
ROWS = [[0.8353, 0.9418], [0.6733, 0.7805], [0.5061, 0.6127], [0.3350, 0.4412]]
YRANGE = [[0, 50], [0, 1], [0, 0.6], [-0.2, 0.2]]
YDTICK = [10, 0.2, 0.1, 0.1]
TICKFONT = dict(family=FONT, size=38, color="#262626")
MONTHFONT = dict(family=FONT, size=33, color="#262626")
common = dict(showline=True, linecolor="#555555", linewidth=3, mirror="ticks", ticks="inside",
              ticklen=14, tickwidth=3, tickcolor="#333333", automargin=False)

layout_axes = {}
for n in range(1, 9):
    year = 2021 if n <= 4 else 2022
    row = (n - 1) % 4
    xk = "xaxis" if n == 1 else f"xaxis{n}"
    yk = "yaxis" if n == 1 else f"yaxis{n}"
    yid = "y" if n == 1 else f"y{n}"
    xid = "x" if n == 1 else f"x{n}"
    layout_axes[xk] = dict(domain=COLS[year], anchor=yid, type="date",
                           range=[f"{year}-03-01", f"{year}-09-29"],
                           tickvals=[f"{year}-{m:02d}-01" for m in range(3, 10)], ticktext=months,
                           showticklabels=(row == 3), tickfont=MONTHFONT, ticklabelstandoff=10,
                           showgrid=True, gridcolor="#c8c8c8", gridwidth=2, zeroline=False, **common)
    ycfg = dict(domain=ROWS[row], anchor=xid, range=YRANGE[row], dtick=YDTICK[row], tick0=0,
                showgrid=True, gridcolor="#e4e4e4", gridwidth=5, zeroline=False, tickfont=TICKFONT,
                side="left" if year == 2021 else "right", **common)
    if row == 3:
        ycfg.update(zeroline=True, zerolinecolor="#000000", zerolinewidth=4,
                    tickvals=[-0.2, -0.1, 0, 0.1, 0.2],
                    ticktext=["-0.2", "-0.1", "0", "0.1", "0.2"] if year == 2021
                    else ["0.2", "0.1", "0", "0.1", "0.2"])
    if n == 5:
        ycfg.update(showticklabels=False, side="left")
    layout_axes[yk] = ycfg

layout_axes["yaxis9"] = dict(overlaying="y", anchor="x", range=[0, 0.5], visible=False, automargin=False)
layout_axes["yaxis10"] = dict(overlaying="y5", anchor="x5", side="right", range=[0, 0.5], dtick=0.1,
                              showgrid=False, zeroline=False, ticks="inside", ticklen=14, tickwidth=3,
                              tickcolor="#333333", tickfont=TICKFONT, showline=False, automargin=False)

# ---- text ----
ann = []


def text(x, y, s, size, **kw):
    d = dict(x=x, y=y, xref="paper", yref="paper", text=s, showarrow=False,
             xanchor="center", yanchor="middle",
             font=dict(family=FONT, size=size, color="#000000"))
    d.update(kw)
    ann.append(d)


text(0.494, 0.9859, "<b>REMEDHUS Concejo del Monte</b>", 62)
text(0.2615, 0.9584, "2021", 60)
text(0.7449, 0.9584, "2022", 60)

labels = ["(a)", "(b)", "(c)", "(d)", "(e)", "(f)", "(g)", "(h)"]
for n, lab in enumerate(labels, start=1):
    ann.append(dict(xref=("x" if n == 1 else f"x{n}") + " domain", yref=("y" if n == 1 else f"y{n}") + " domain",
                    x=0.004, y=1.03, xanchor="left", yanchor="top", text=lab, showarrow=False,
                    font=dict(family=FONT, size=95, color="#000000")))

unit = "[m<sup>3</sup> m<sup>-3</sup>]"
ytitles = ["Temperature [°C]<br>Precipitation [mm]", "Soil Moisture<br>Normalized",
           "Soil Moisture<br>" + unit, "Short-term Fluctuations<br>" + unit]
for row, (t, xp) in enumerate(zip(ytitles, [0.0222, 0.0188, 0.0178, 0.0163])):
    text(xp, sum(ROWS[row]) / 2, t, 38, textangle=-90)
text(0.9885, sum(ROWS[0]) / 2, "Soil Moisture " + unit, 38, textangle=90)

# ---- legends drawn as keys + labels ----
shapes = []


def key(x0, x1, y, color, dash=None):
    shapes.append(dict(type="line", xref="paper", yref="paper", x0=x0, x1=x1, y0=y, y1=y,
                       line=dict(color=color, width=8, dash="40px,30px" if dash else None)))


def legend_label(x, y, s):
    text(x, y, s, 55, xanchor="left", yanchor="middle")


IS = "<i>in situ</i>"
legend_rows = [
    (0.8113, [(0.1040, 0.1256, BLACK, False, IS + " SM time series"),
              (0.2774, 0.2985, BLACK, True, IS + " SM seas. trend"),
              (0.4464, 0.4688, MAGENTA, False, IS + " T time series"),
              (0.5963, 0.6186, MAGENTA, True, IS + " T seas. trend")]),
    (0.6467, [(0.1429, 0.1645, BLACK, False, IS + " normalized SM"),
              (0.3718, 0.3929, BLUE, False, "ECMWF normalized SM"),
              (0.6244, 0.6460, RED, False, "SMAP normalized SM")]),
    (0.4788, [(0.0989, 0.1212, BLACK, False, IS + " SM"),
              (0.1977, 0.2200, BLACK, True, IS + " SM seas. trend"),
              (0.3603, 0.3814, BLUE, False, "ECMWF SM"),
              (0.4739, 0.4955, BLUE, True, "ECMWF SM seas. trend"),
              (0.6563, 0.6779, RED, False, "SMAP SM"),
              (0.7570, 0.7787, RED, True, "SMAP SM seas. trend")]),
    (0.2835, [(0.1582, 0.1805, BLACK, False, IS + " short-term fluctuations SM"),
              (0.3980, 0.4203, BLUE, False, "ECMWF short-term fluctuations SM"),
              (0.6511, 0.6735, RED, False, "SMAP short-term fluctuations SM")]),
]
for y, items in legend_rows:
    for x0, x1, c, dsh, s in items:
        key(x0, x1, y, c, dsh)
        legend_label(x1 + 0.0058, y, s)

# precipitation key: three small bars
for bx0, bx1, top in [(0.7623, 0.7694, 0.8141), (0.7727, 0.7785, 0.8215), (0.7809, 0.7879, 0.8184)]:
    shapes.append(dict(type="rect", xref="paper", yref="paper", x0=bx0, x1=bx1, y0=0.8025, y1=top,
                       fillcolor=PBLUE, line=dict(width=0)))
legend_label(0.7940, 0.8113, IS + " P")

# ---- statistics table ----
TX0, TX1, TY0, TY1 = 0.2729, 0.7346, 0.0089, 0.2575
shapes.append(dict(type="rect", xref="paper", yref="paper", x0=TX0, x1=TX1, y0=TY0, y1=TY1,
                   line=dict(color="#333333", width=3)))
for xv in [0.3648, 0.5497]:
    shapes.append(dict(type="line", xref="paper", yref="paper", x0=xv, x1=xv, y0=TY0, y1=TY1,
                       line=dict(color="#333333", width=2.5)))
shapes.append(dict(type="line", xref="paper", yref="paper", x0=TX0, x1=TX1, y0=0.1859, y1=0.1859,
                   line=dict(color="#333333", width=4)))

TFONT = "Open Sans, Lato, sans-serif"


def cell(x, y, s):
    ann.append(dict(x=x, y=y, xref="paper", yref="paper", text=s, showarrow=False,
                    xanchor="center", yanchor="middle",
                    font=dict(family=TFONT, size=52, color="#111111")))


cell(0.4570, 0.2385, "2021")
cell(0.6416, 0.2385, "2022")
col_x = [0.4108, 0.5031, 0.5958, 0.6882]
for cx, name in zip(col_x, ["ECMWF", "SMAP", "ECMWF", "SMAP"]):
    cell(cx, 0.2033, name)
row_y = [0.1678, 0.1329, 0.0971, 0.0622, 0.0257]
for i, ry in enumerate(row_y):
    cell(0.3185, ry, table_rows[i])
    for cx, col in zip(col_x, [ecmwf_2021, smap_2021, ecmwf_2022, smap_2022]):
        cell(cx, ry, col[i])

# figure fills the browser viewport (page body keeps its default 8px margin)
fig.update_layout(template="none", autosize=True, margin=dict(l=0, r=0, t=0, b=0, pad=0),
                  paper_bgcolor="white", plot_bgcolor="white", showlegend=False,
                  bargap=0, font=dict(family=FONT, size=38, color="#000000"),
                  annotations=ann, shapes=shapes, **layout_axes)

fig.write_html("out.html", default_width="100%", default_height="calc(100vh - 16px)")
